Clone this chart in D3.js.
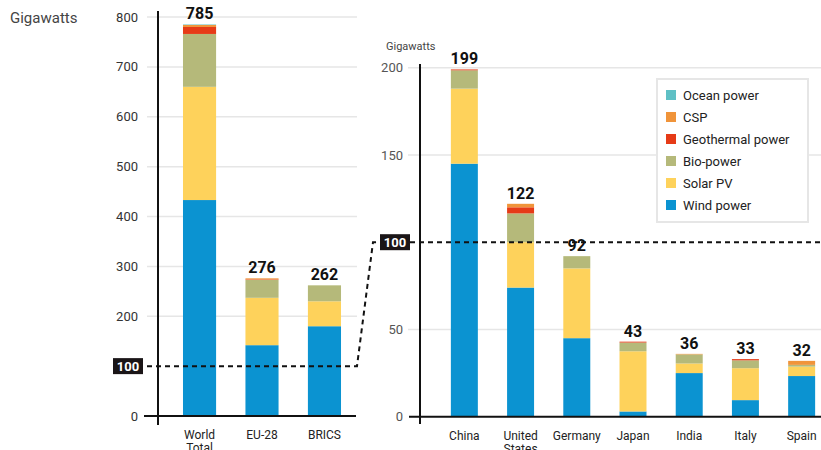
<!DOCTYPE html>
<html>
<head>
<meta charset="utf-8">
<script src="https://cdn.jsdelivr.net/npm/d3@7"></script>
<style>
  body { margin: 0; background: #fff; }
  svg { font-family: Roboto, "Liberation Sans", sans-serif; }
  .grid line { stroke: #e6e6e6; stroke-width: 1.5; }
  .tick-label { font-size: 13px; fill: #333; }
  .cat-label { font-size: 12px; fill: #222; }
  .total { font-size: 16px; font-weight: bold; fill: #111; }
</style>
</head>
<body>
<div id="chart"></div>
<script>
// series, bottom to top
var series = ['Wind power', 'Solar PV', 'Bio-power', 'Geothermal power', 'CSP', 'Ocean power'];
var colors = ['#0b93d1', '#fed25b', '#b5b97a', '#e63b17', '#f0943a', '#5fc0c5'];

// left panel: world / blocs
var leftCats = ['World Total', 'EU-28', 'BRICS'];
var leftWind = [433, 142, 180];
var leftSolar = [227, 95, 50];
var leftBio = [106, 36, 32];
var leftGeo = [14, 1, 0];
var leftCsp = [4, 2, 0];
var leftOcean = [1, 0, 0];
var leftTotals = [785, 276, 262];
var leftTicks = [0, 200, 300, 400, 500, 600, 700, 800];

// right panel: countries
var rightCats = ['China', 'United States', 'Germany', 'Japan', 'India', 'Italy', 'Spain'];
var rightWind = [145, 74, 45, 3, 25, 9.5, 23.3];
var rightSolar = [43, 26, 40, 34.5, 5.5, 18.3, 5.4];
var rightBio = [10.5, 16.5, 7, 5, 5.2, 4.5, 1];
var rightGeo = [0.5, 3.5, 0, 0.5, 0, 0.7, 0];
var rightCsp = [0, 2, 0, 0, 0.3, 0, 2.3];
var rightOcean = [0, 0, 0, 0, 0, 0, 0];
var rightTotals = [199, 122, 92, 43, 36, 33, 32];
var rightTicks = [0, 50, 150, 200];

var width = 821, height = 450;

var svg = d3.select('#chart').append('svg')
    .attr('width', width)
    .attr('height', height);

function rows(cats, cols) {
    return cats.map(function (c, i) {
        var r = { key: c };
        series.forEach(function (s, j) { r[s] = cols[j][i]; });
        return r;
    });
}

var zScale = d3.scaleOrdinal().domain(series).range(colors);

function panel(opts) {
    var data = rows(opts.cats, opts.cols);
    var stacked = d3.stack().keys(series)(data);

    var x = d3.scaleBand().domain(opts.cats).range(opts.xRange)
        .paddingInner(opts.padInner).paddingOuter(opts.padOuter);
    var y = d3.scaleLinear().domain(opts.yDomain).range(opts.yRange);

    var g = svg.append('g');

    // gridlines
    g.append('g').attr('class', 'grid')
        .selectAll('line').data(opts.ticks.filter(function (t) { return t > 0; }))
        .enter().append('line')
        .attr('x1', opts.gridX[0]).attr('x2', opts.gridX[1])
        .attr('y1', function (d) { return y(d); })
        .attr('y2', function (d) { return y(d); });

    // tick labels
    g.selectAll('.tick-label').data(opts.ticks).enter().append('text')
        .attr('class', 'tick-label')
        .attr('x', opts.tickX)
        .attr('y', function (d) { return y(d); })
        .attr('dy', '0.35em')
        .attr('text-anchor', 'end')
        .style('fill', opts.tickColor)
        .text(function (d) { return d; });

    // bars
    g.append('g').selectAll('g').data(stacked).enter().append('g')
        .attr('fill', function (d) { return zScale(d.key); })
        .selectAll('rect').data(function (d) { return d; })
        .enter().append('rect')
        .attr('x', function (d) { return x(d.data.key); })
        .attr('width', x.bandwidth())
        .attr('y', function (d) { return y(d[1]); })
        .attr('height', function (d) { return Math.max(0, y(d[0]) - y(d[1])); });

    // baseline and vertical axis
    g.append('line')
        .attr('x1', opts.baseX[0]).attr('x2', opts.baseX[1])
        .attr('y1', y(0)).attr('y2', y(0))
        .attr('stroke', '#111').attr('stroke-width', 2);
    g.append('line')
        .attr('x1', opts.axisX).attr('x2', opts.axisX)
        .attr('y1', opts.axisY[0]).attr('y2', opts.axisY[1])
        .attr('stroke', '#111').attr('stroke-width', 2);

    // category labels (wrap to two lines)
    var cl = g.selectAll('.cat-label').data(opts.cats).enter().append('text')
        .attr('class', 'cat-label')
        .attr('text-anchor', 'middle')
        .attr('x', function (d) { return x(d) + x.bandwidth() / 2; })
        .attr('y', y(0) + 23);
    cl.each(function (d) {
        var words = d.split(' ');
        var t = d3.select(this);
        words.forEach(function (w, i) {
            t.append('tspan')
                .attr('x', t.attr('x'))
                .attr('dy', i === 0 ? 0 : '1.1em')
                .text(w);
        });
    });

    return { x: x, y: y, g: g, data: data };
}

function totals(p, vals, hundredY, gap) {
    var lab = p.g.selectAll('.total').data(p.data).enter().append('g');
    lab.each(function (d, i) {
        var cx = p.x(d.key) + p.x.bandwidth() / 2;
        var by = p.y(vals[i]) - 5;
        var t = d3.select(this);
        // white knock-out where the label sits on the 100 line
        if (by > hundredY && by - 13 < hundredY) {
            t.append('rect').attr('x', cx - gap).attr('width', gap * 2)
                .attr('y', by - 14).attr('height', 16).attr('fill', '#fff');
        }
        t.append('text').attr('class', 'total')
            .attr('x', cx).attr('y', by)
            .attr('text-anchor', 'middle')
            .text(vals[i]);
    });
}

var left = panel({
    cats: leftCats,
    cols: [leftWind, leftSolar, leftBio, leftGeo, leftCsp, leftOcean],
    xRange: [168, 356], padInner: 0.47, padOuter: 0.24,
    yDomain: [0, 800], yRange: [416, 17],
    ticks: leftTicks, gridX: [147, 357], tickX: 138, tickColor: '#333',
    baseX: [144, 356], axisX: 158, axisY: [11, 425]
});

var right = panel({
    cats: rightCats,
    cols: [rightWind, rightSolar, rightBio, rightGeo, rightCsp, rightOcean],
    xRange: [434, 832], padInner: 0.52, padOuter: 0.3,
    yDomain: [0, 200], yRange: [416.7, 67.7],
    ticks: rightTicks, gridX: [408, 821], tickX: 403, tickColor: '#555',
    baseX: [409, 821], axisX: 420, axisY: [64, 424]
});

// dashed 100 GW guide linking the two panels
var ly = left.y(100), ry = right.y(100);
svg.append('path')
    .attr('d', d3.line()([[147, ly], [357, ly], [373, ry], [381, ry]]))
    .attr('fill', 'none').attr('stroke', '#111')
    .attr('stroke-width', 2).attr('stroke-dasharray', '5,4');
svg.append('line')
    .attr('x1', 410).attr('x2', 821).attr('y1', ry).attr('y2', ry)
    .attr('stroke', '#111').attr('stroke-width', 2).attr('stroke-dasharray', '5,4');

function hundredBox(xRight, cy) {
    svg.append('rect').attr('x', xRight - 30).attr('y', cy - 8)
        .attr('width', 30).attr('height', 16).attr('fill', '#1a1517');
    svg.append('text').attr('x', xRight - 15).attr('y', cy).attr('dy', '0.35em')
        .attr('text-anchor', 'middle').attr('fill', '#fff')
        .attr('font-size', 13).attr('font-weight', 'bold').text('100');
}
hundredBox(143, ly);
hundredBox(410, ry);

totals(left, leftTotals, ly, 18);
totals(right, rightTotals, ry, 17);

// unit labels
svg.append('text').attr('x', 10).attr('y', 23)
    .attr('font-size', 15).attr('fill', '#444').text('Gigawatts');
svg.append('text').attr('x', 386).attr('y', 50)
    .attr('font-size', 11).attr('fill', '#444').text('Gigawatts');

// legend (top to bottom in reverse stack order)
var legendItems = series.slice().reverse();
var lg = svg.append('g');
lg.append('rect').attr('x', 657).attr('y', 79).attr('width', 151).attr('height', 143)
    .attr('fill', '#fff').attr('stroke', '#e6e6e6').attr('stroke-width', 2);
var li = lg.selectAll('.item').data(legendItems).enter().append('g')
    .attr('transform', function (d, i) { return 'translate(666,' + (95 + i * 22) + ')'; });
li.append('rect').attr('x', 0).attr('y', -5).attr('width', 10).attr('height', 10)
    .attr('fill', function (d) { return zScale(d); });
li.append('text').attr('x', 17).attr('dy', '0.35em')
    .attr('font-size', 13).attr('fill', '#222')
    .text(function (d) { return d; });
</script>
</body>
</html>
